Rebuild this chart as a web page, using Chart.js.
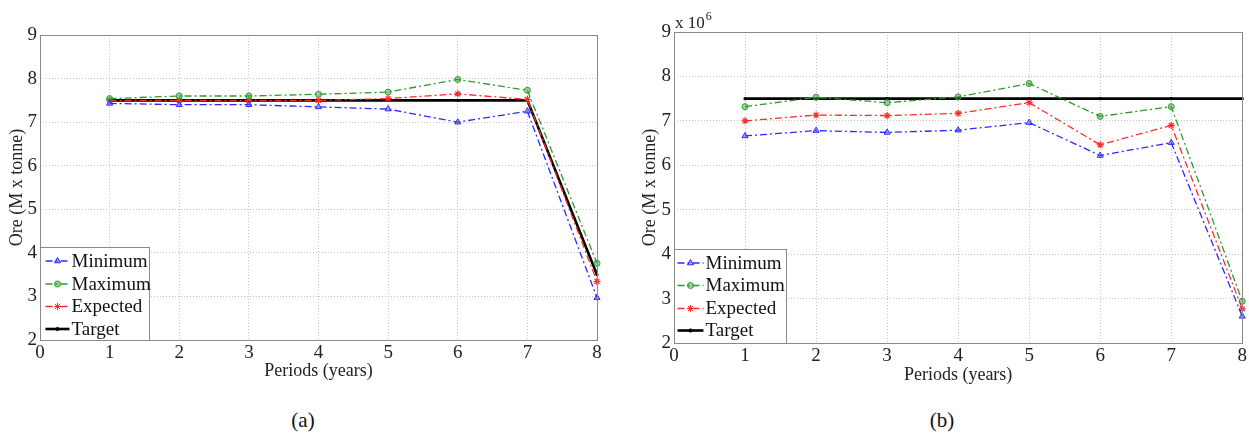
<!DOCTYPE html>
<html>
<head>
<meta charset="utf-8">
<script src="https://cdn.jsdelivr.net/npm/chart.js@4.4.0/dist/chart.umd.min.js"></script>
<style>
    body { margin: 0; background: #fff; width: 1249px; height: 439px; overflow: hidden; position: relative; }
    canvas { position: absolute; top: 0; }
    .cap { position: absolute; top: 408px; font-family: 'Liberation Serif', serif; font-size: 21px; color: #111; transform: translateX(-50%); }
</style>
</head>
<body>
<canvas id="chartA" width="620" height="400" style="left:0"></canvas>
<canvas id="chartB" width="629" height="400" style="left:620px"></canvas>
<div class="cap" style="left:303px">(a)</div>
<div class="cap" style="left:942px">(b)</div>
<script>
// ===== Data =====
const periods = [1, 2, 3, 4, 5, 6, 7, 8];
const yTicks = [2, 3, 4, 5, 6, 7, 8, 9];

// (a) Ore, M x tonne
const minA = [7.43, 7.40, 7.40, 7.35, 7.30, 7.00, 7.25, 2.97];
const maxA = [7.54, 7.60, 7.60, 7.64, 7.69, 7.98, 7.73, 3.76];
const expA = [7.50, 7.50, 7.50, 7.50, 7.54, 7.65, 7.52, 3.34];
const targetA = [7.5, 7.5, 7.5, 7.5, 7.5, 7.5, 7.5, 3.5];

// (b) Ore, x 10^6 tonne
const minB = [6.66, 6.78, 6.74, 6.79, 6.96, 6.22, 6.51, 2.60];
const maxB = [7.32, 7.53, 7.41, 7.54, 7.84, 7.10, 7.32, 2.94];
const expB = [7.00, 7.13, 7.12, 7.17, 7.41, 6.46, 6.90, 2.77];
const targetB = [7.5, 7.5, 7.5, 7.5, 7.5, 7.5, 7.5, 7.5];

const seriesNames = ['Minimum', 'Maximum', 'Expected', 'Target'];

const SERIF = "'Liberation Serif', 'Times New Roman', serif";
const BLUE = '#2b2bff', GREEN = '#2f9a2f', RED = '#ff2a2a', BLACK = '#000';
const DASHDOT = [7, 3, 2, 3];

const pts = (arr) => arr.map((v, i) => ({ x: periods[i], y: v }));

function makeDatasets(mn, mx, ex, tg) {
    return [
        { label: seriesNames[0], data: pts(mn), borderColor: BLUE, backgroundColor: 'rgba(60,60,255,0.6)',
          borderWidth: 1.3, borderDash: DASHDOT, pointStyle: 'triangle', pointRadius: 3.5,
          pointBorderWidth: 1, pointBorderColor: BLUE, pointBackgroundColor: 'rgba(80,80,255,0.5)', clip: false },
        { label: seriesNames[1], data: pts(mx), borderColor: GREEN, backgroundColor: 'rgba(47,154,47,0.5)',
          borderWidth: 1.3, borderDash: DASHDOT, pointStyle: 'circle', pointRadius: 3,
          pointBorderWidth: 1, pointBorderColor: GREEN, pointBackgroundColor: 'rgba(47,154,47,0.45)', clip: false },
        { label: seriesNames[2], data: pts(ex), borderColor: RED, backgroundColor: RED,
          borderWidth: 1.3, borderDash: DASHDOT, pointStyle: 'star', pointRadius: 3.5,
          pointBorderWidth: 1.2, pointBorderColor: RED, pointBackgroundColor: RED, clip: false },
        { label: seriesNames[3], data: pts(tg), borderColor: BLACK, backgroundColor: BLACK,
          borderWidth: 2.6, pointStyle: 'circle', pointRadius: 1.6,
          pointBorderWidth: 0, pointBackgroundColor: BLACK, clip: false }
    ];
}

// frame, inset legend and exponent label
const matlabPlugin = {
    id: 'matlab',
    afterDraw(chart, args, opts) {
        const { ctx, chartArea: a } = chart;
        ctx.save();
        ctx.strokeStyle = '#8a8a8a';
        ctx.lineWidth = 1;
        ctx.strokeRect(Math.round(a.left) + 0.5, Math.round(a.top) + 0.5,
            Math.round(a.right - a.left), Math.round(a.bottom - a.top));

        // legend box
        const L = opts.legend;
        const bx = Math.round(a.left) + 0.5, by = Math.round(a.bottom - L.h) + 0.5;
        ctx.fillStyle = '#fff';
        ctx.fillRect(bx, by, L.w, L.h);
        ctx.strokeStyle = '#8a8a8a';
        ctx.strokeRect(bx, by, L.w, L.h);
        ctx.font = '19px ' + SERIF;
        ctx.textBaseline = 'middle';
        chart.data.datasets.forEach((ds, i) => {
            const y = by + L.rows[i];
            ctx.strokeStyle = ds.borderColor;
            ctx.lineWidth = ds.borderWidth;
            ctx.setLineDash(ds.borderDash || []);
            ctx.beginPath();
            ctx.moveTo(bx + L.x0, y);
            ctx.lineTo(bx + L.x1, y);
            ctx.stroke();
            ctx.setLineDash([]);
            ctx.lineWidth = 1;
            ctx.fillStyle = ds.pointBackgroundColor;
            ctx.strokeStyle = ds.pointBorderColor || ds.borderColor;
            Chart.helpers.drawPoint(ctx, { pointStyle: ds.pointStyle, radius: ds.pointRadius, rotation: 0, borderWidth: 1 },
                bx + (L.x0 + L.x1) / 2, y);
            ctx.fillStyle = '#111';
            ctx.fillText(ds.label, bx + L.tx, y + 1);
        });

        if (opts.exponent) {
            ctx.fillStyle = '#222';
            ctx.textBaseline = 'alphabetic';
            ctx.font = '17px ' + SERIF;
            ctx.fillText('x 10', a.left + 1, a.top - 4);
            const w = ctx.measureText('x 10').width;
            ctx.font = '12px ' + SERIF;
            ctx.fillText('6', a.left + 2 + w, a.top - 12);
        }
        ctx.restore();
    }
};

function makeChart(id, datasets, geo) {
    const ctx = document.getElementById(id).getContext('2d');
    return new Chart(ctx, {
        type: 'line',
        data: { datasets },
        plugins: [matlabPlugin],
        options: {
            responsive: false,
            animation: false,
            layout: { padding: { top: geo.top, right: geo.right, left: 0, bottom: 0 } },
            plugins: {
                legend: { display: false },
                tooltip: { enabled: false },
                matlab: { legend: geo.legend, exponent: geo.exponent }
            },
            scales: {
                x: {
                    type: 'linear', min: 0, max: 8,
                    afterFit: (s) => { s.height = geo.xAxisH; },
                    ticks: { stepSize: 1, padding: 2, color: '#222', font: { family: SERIF, size: 19 } },
                    grid: { color: '#c4c4c4', drawTicks: false, lineWidth: 1 },
                    border: { display: false, dash: [1, 2] },
                    title: { display: true, text: 'Periods (years)', color: '#222',
                             font: { family: SERIF, size: 18 }, padding: { top: 0, bottom: geo.xTitlePad } }
                },
                y: {
                    type: 'linear', min: 2, max: 9,
                    afterFit: (s) => { s.width = geo.yAxisW; },
                    afterBuildTicks: (s) => { s.ticks = yTicks.map(v => ({ value: v })); },
                    ticks: { padding: 3, color: '#222', font: { family: SERIF, size: 19 } },
                    grid: { color: '#c4c4c4', drawTicks: false, lineWidth: 1 },
                    border: { display: false, dash: [1, 2] },
                    title: { display: true, text: 'Ore (M x tonne)', color: '#222',
                             font: { family: SERIF, size: 18 }, padding: { top: geo.yTitlePad, bottom: 0 } }
                }
            }
        }
    });
}

makeChart('chartA', makeDatasets(minA, maxA, expA, targetA), {
    top: 35, right: 23, yAxisW: 40, xAxisH: 60, xTitlePad: 18, yTitlePad: 6,
    legend: { w: 109, h: 93, rows: [13.5, 36.5, 59, 81.5], x0: 5, x1: 29, tx: 31 },
    exponent: false
});

makeChart('chartB', makeDatasets(minB, maxB, expB, targetB), {
    top: 32, right: 6, yAxisW: 54, xAxisH: 57, xTitlePad: 14, yTitlePad: 19,
    legend: { w: 112, h: 94, rows: [13.5, 36, 59, 81], x0: 3, x1: 29, tx: 31 },
    exponent: true
});
</script>
</body>
</html>
